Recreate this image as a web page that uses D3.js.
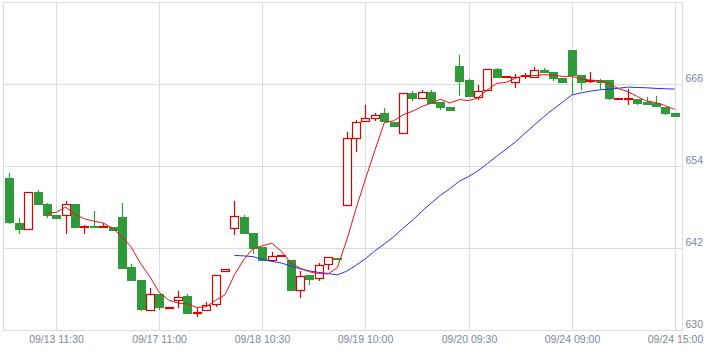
<!DOCTYPE html>
<html>
<head>
<meta charset="utf-8">
<script src="https://cdn.jsdelivr.net/npm/d3@7"></script>
<style>
  body { margin: 0; background: #fff; }
  svg { display: block; }
  .axis text { font-family: "Liberation Sans", Arial, sans-serif; font-size: 10.5px; fill: #7b889a; }
  .axis path { display: none; }
  .axis line { stroke: #dcdcdc; }
</style>
</head>
<body>
<svg width="722" height="354"></svg>
<script>
// candle data (one entry per bar)
var opens  = [652.39,645.70,644.74,650.34,648.44,646.83,646.79,648.44,645.12,645.26,645.12,645.12,646.54,639.22,637.32,632.88,635.41,633.18,634.29,635.12,632.44,632.88,633.76,638.59,644.88,646.68,644.20,642.15,640.10,640.93,640.29,635.81,638.05,637.57,639.62,640.68,648.25,658.05,660.54,660.88,661.76,660.44,658.79,664.79,663.95,664.88,663.37,662.68,668.78,666.59,664.05,665.08,668.30,666.95,666.25,667.22,666.93,668.10,667.76,666.88,671.12,667.32,666.40,666.59,666.59,663.91,663.70,663.95,663.51,663.27,662.78,661.76];
var highs  = [653.12,646.49,650.30,650.63,648.63,646.83,648.88,648.44,645.47,647.56,645.76,645.12,648.73,639.66,637.32,636.25,635.41,633.51,635.85,635.27,633.26,634.14,638.15,639.03,648.98,646.90,644.20,642.15,641.52,640.93,640.29,638.68,638.05,639.91,640.79,640.68,659.02,660.78,663.03,661.86,662.49,660.44,664.79,664.98,665.23,665.23,663.37,662.68,670.35,666.84,665.86,668.30,668.44,667.07,667.47,667.61,668.49,668.44,667.76,666.88,671.12,667.32,667.90,666.84,666.59,663.91,665.37,663.95,664.10,664.25,662.78,661.76];
var lows   = [645.60,644.15,644.74,648.30,646.43,646.39,644.15,644.97,644.15,644.97,645.12,644.63,639.00,637.21,632.82,632.88,633.03,633.18,633.32,632.39,631.95,632.88,633.37,638.59,644.00,644.09,641.22,640.14,640.10,640.93,635.75,634.79,636.63,637.21,638.82,640.29,648.25,656.15,660.54,660.59,660.49,659.75,658.79,663.56,663.95,663.12,662.20,662.09,664.29,664.14,663.70,665.08,666.93,666.95,665.52,666.83,666.93,667.61,666.48,666.19,664.54,665.17,666.15,665.37,663.76,663.91,662.93,662.93,663.03,662.68,661.47,661.22];
var closes = [645.70,644.74,650.30,648.34,646.73,646.39,648.54,644.97,645.12,644.97,645.12,644.63,639.03,637.21,632.97,635.31,633.26,633.51,634.93,632.39,632.78,633.76,638.15,639.03,646.79,644.09,641.96,640.14,640.93,640.93,635.75,638.01,637.36,639.56,640.79,640.29,658.20,660.54,661.13,661.57,660.49,659.75,664.79,663.81,664.93,663.12,662.53,662.09,666.34,664.14,665.12,668.30,666.93,667.07,667.13,667.22,668.15,667.61,666.78,666.19,667.27,666.25,666.70,666.29,663.85,663.91,664.05,663.12,663.03,662.68,661.66,661.22];

// moving averages (red from bar 4, blue from bar 24)
var ma5 = [null,null,null,null,647.16,647.30,648.06,646.99,646.35,646.00,645.74,644.96,643.77,642.19,639.79,637.83,635.56,634.45,634.00,633.88,633.37,633.47,634.40,635.22,638.10,640.36,642.00,642.40,642.78,641.61,639.94,639.15,638.60,638.32,638.29,639.20,643.24,647.88,652.19,656.35,660.39,660.70,661.55,662.08,662.75,663.28,663.84,663.30,663.80,663.64,664.04,665.20,666.17,666.31,666.91,667.33,667.30,667.44,667.38,667.19,667.20,666.82,666.64,666.54,666.07,665.40,664.96,664.24,663.59,663.36,662.91,662.34];
var ma25 = [null,null,null,null,null,null,null,null,null,null,null,null,null,null,null,null,null,null,null,null,null,null,null,null,640.99,640.92,640.81,640.40,640.11,639.88,639.45,639.03,638.73,638.50,638.34,638.14,638.69,639.55,640.50,641.65,642.65,643.71,644.96,646.12,647.42,648.63,649.79,650.74,651.84,652.53,653.37,654.42,655.50,656.54,657.59,658.85,660.05,661.26,662.35,663.37,664.45,664.77,665.02,665.22,665.31,665.45,665.62,665.56,665.52,665.43,665.38,665.32];

var xTickIdx = [5, 16, 27, 38, 49, 60, 71];
var xTickLabels = ["09/13 11:30", "09/17 11:00", "09/18 10:30", "09/19 10:00", "09/20 09:30", "09/24 09:00", "09/24 15:00"];
var yTicks = [630, 642, 654, 666];

var svg = d3.select("svg"),
	pLeft = 3.5, pRight = 682.5, pTop = 2.5, pBottom = 330.5,
	green = "#2e9a3a", red = "#e00000";

var idx = d3.range(closes.length);

var x = d3.scalePoint()
	.domain(idx)
	.range([9.45, 674.7]);

var y = d3.scaleLinear()
	.domain([630, 678])
	.range([pBottom, pTop]);

var px = function(i) { return Math.round(x(i)); };

// horizontal grid
svg.append("g")
	.attr("class", "axis")
	.attr("transform", "translate(" + pRight + ",0)")
	.call(d3.axisLeft(y).tickValues([642, 654, 666]).tickSize(pRight - pLeft).tickFormat(""))
	.selectAll(".tick")
	.attr("transform", function(d) { return "translate(0," + (Math.round(y(d) - 0.5) + 0.5) + ")"; });

// vertical grid + x labels
var xAxis = svg.append("g")
	.attr("class", "axis")
	.attr("transform", "translate(0," + pBottom + ")")
	.call(d3.axisBottom(x)
		.tickValues(xTickIdx)
		.tickSize(-(pBottom - pTop))
		.tickPadding(5)
		.tickFormat(function(d, i) { return xTickLabels[i]; }));
xAxis.selectAll(".tick")
	.attr("transform", function(d) { return "translate(" + (px(d) + 0.5) + ",0)"; });

// y labels sit just above their grid line
svg.append("g")
	.attr("class", "axis")
	.attr("transform", "translate(" + pRight + ",0)")
	.call(d3.axisRight(y).tickValues(yTicks).tickSize(0).tickPadding(3))
	.selectAll("text")
	.attr("dy", "-0.3em");

// plot frame
svg.append("rect")
	.attr("x", pLeft).attr("y", pTop)
	.attr("width", pRight - pLeft).attr("height", pBottom - pTop)
	.attr("fill", "none")
	.attr("stroke", "#dcdcdc");

// candles
var candle = svg.append("g")
	.selectAll("g")
	.data(idx)
	.enter()
	.append("g");

candle.append("line")
	.attr("x1", function(i) { return px(i) + 0.5; })
	.attr("x2", function(i) { return px(i) + 0.5; })
	.attr("y1", function(i) { return Math.round(y(highs[i])); })
	.attr("y2", function(i) { return Math.round(y(lows[i])); })
	.attr("stroke", function(i) { return closes[i] < opens[i] ? green : red; })
	.attr("stroke-width", 1.2);

candle.append("rect")
	.each(function(i) {
		var r = d3.select(this),
			yo = Math.round(y(opens[i])), yc = Math.round(y(closes[i])),
			t = Math.min(yo, yc), h = Math.abs(yo - yc);
		if (closes[i] < opens[i]) {
			r.attr("x", px(i) - 4).attr("width", 9)
				.attr("y", t).attr("height", Math.max(h, 1))
				.attr("fill", green);
		} else if (h < 2) {
			// flat bar: thick red dash
			r.attr("x", px(i) - 4).attr("width", 9)
				.attr("y", t - 1).attr("height", 2)
				.attr("fill", red);
		} else {
			r.attr("x", px(i) - 3.5).attr("width", 8)
				.attr("y", t + 0.5).attr("height", h - 1)
				.attr("fill", "#fff")
				.attr("stroke", red)
				.attr("stroke-width", 1.2);
		}
	});

// moving average lines
var line = function(vals) {
	return d3.line()
		.defined(function(i) { return vals[i] != null; })
		.x(function(i) { return x(i); })
		.y(function(i) { return y(vals[i]); });
};

svg.append("path")
	.attr("d", line(ma25)(idx))
	.attr("fill", "none")
	.attr("stroke", "#2b2bff")
	.attr("stroke-width", 1);

svg.append("path")
	.attr("d", line(ma5)(idx))
	.attr("fill", "none")
	.attr("stroke", "#f01010")
	.attr("stroke-width", 1);
</script>
</body>
</html>
